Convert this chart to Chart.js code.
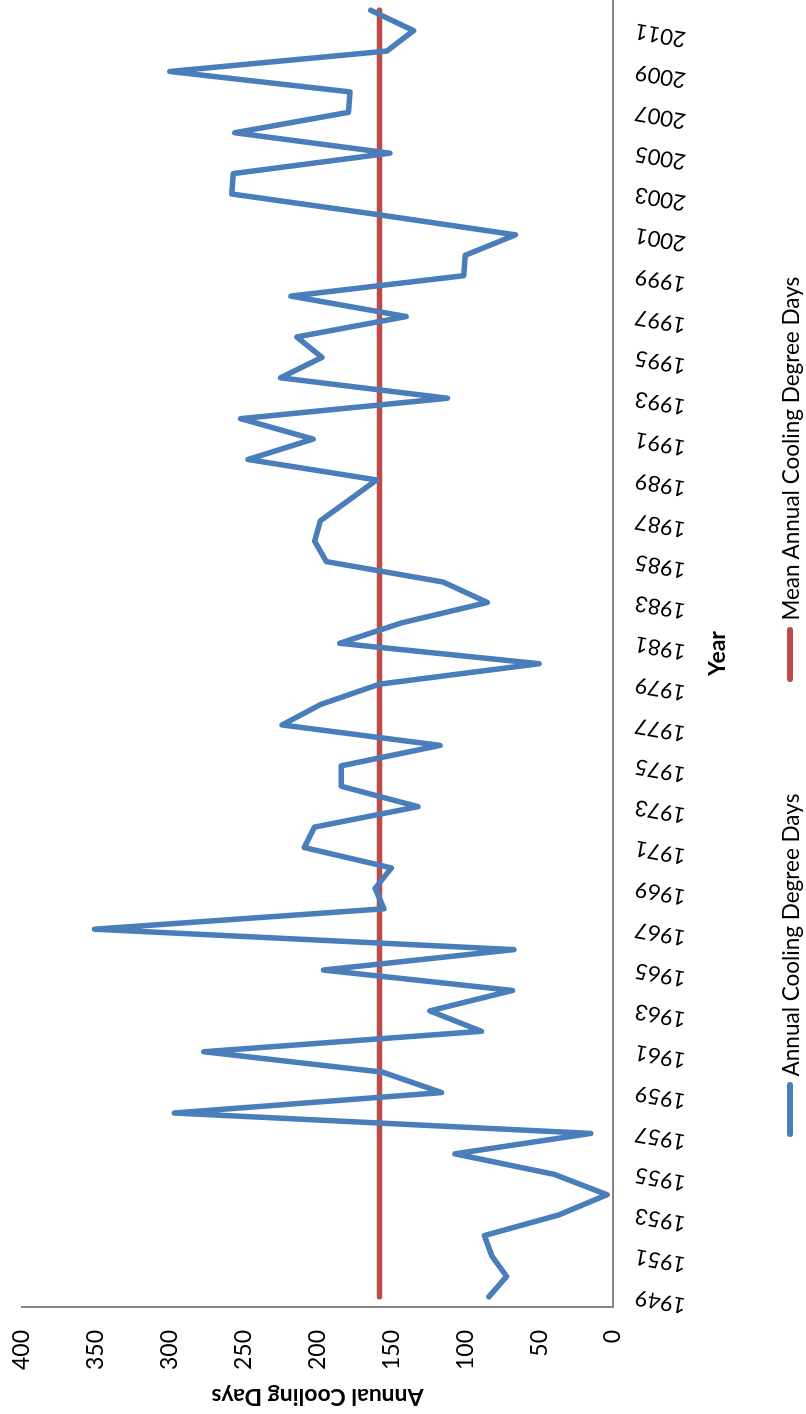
<!DOCTYPE html>
<html>
<head>
<meta charset="utf-8">
<title>Annual Cooling Degree Days</title>
<script src="https://cdn.jsdelivr.net/npm/chart.js@4"></script>
<style>
  html, body { margin: 0; padding: 0; background: #fff; }
  body { width: 806px; height: 1414px; overflow: hidden; position: relative; }
  /* The chart is laid out landscape and turned a quarter turn counter-clockwise */
  #frame {
    position: absolute; left: 0; top: 0;
    width: 1414px; height: 806px;
    transform-origin: 0 0;
    transform: translateY(1414px) rotate(-90deg);
    background: #fff;
  }
  #chart { position: absolute; left: 0; top: 0; }
  #legend {
    position: absolute; left: 0; top: 776px; width: 1414px; height: 28px;
    display: flex; justify-content: center; align-items: center;
    font-family: Lato, "Open Sans", sans-serif; font-size: 22.5px; color: #000;
    white-space: nowrap;
  }
  .item { display: flex; align-items: center; }
  .item + .item { margin-left: 112px; }
  .swatch { width: 55px; height: 6px; border-radius: 3px; margin-right: 6px; }
</style>
</head>
<body>
<div id="frame">
  <canvas id="chart" width="1414" height="806"></canvas>
  <div id="legend">
    <div class="item"><span class="swatch" style="background:#4A7EBB"></span><span>Annual Cooling Degree Days</span></div>
    <div class="item"><span class="swatch" style="background:#BE4B48"></span><span>Mean Annual Cooling Degree Days</span></div>
  </div>
</div>
<script>
// Years on the category axis
const years = [
  1949, 1950, 1951, 1952, 1953, 1954, 1955, 1956, 1957, 1958,
  1959, 1960, 1961, 1962, 1963, 1964, 1965, 1966, 1967, 1968,
  1969, 1970, 1971, 1972, 1973, 1974, 1975, 1976, 1977, 1978,
  1979, 1980, 1981, 1982, 1983, 1984, 1985, 1986, 1987, 1988,
  1989, 1990, 1991, 1992, 1993, 1994, 1995, 1996, 1997, 1998,
  1999, 2000, 2001, 2002, 2003, 2004, 2005, 2006, 2007, 2008,
  2009, 2010, 2011, 2012
];

// Annual cooling degree days per year
const coolingDays = [
   84,  72,  82,  87,  37,   4,  40, 107,  15, 297,
  116, 156, 277,  89, 124,  68, 196,  67, 351, 155,
  161, 150, 209, 202, 132, 184, 184, 117, 224, 198,
  158,  50, 185, 143,  85, 115, 194, 202, 198, 179,
  160, 247, 203, 252, 112, 225, 197, 214, 140, 218,
  101, 100,  66, 160, 258, 257, 151, 256, 179, 178,
  300, 153, 135, 164
];

// Long-term mean, one value per year
const meanCoolingDays = [
  158, 158, 158, 158, 158, 158, 158, 158, 158, 158,
  158, 158, 158, 158, 158, 158, 158, 158, 158, 158,
  158, 158, 158, 158, 158, 158, 158, 158, 158, 158,
  158, 158, 158, 158, 158, 158, 158, 158, 158, 158,
  158, 158, 158, 158, 158, 158, 158, 158, 158, 158,
  158, 158, 158, 158, 158, 158, 158, 158, 158, 158,
  158, 158, 158, 158
];

// Value axis range
const valueMin = 0;
const valueMax = 400;
const valueStep = 50;

const axisGrey = '#868686';
const font = 'Lato, "Open Sans", sans-serif';

new Chart(document.getElementById('chart'), {
  type: 'line',
  data: {
    labels: years.map(String),
    datasets: [
      {
        label: 'Annual Cooling Degree Days',
        data: coolingDays,
        borderColor: '#4A7EBB',
        borderWidth: 5.5,
        borderCapStyle: 'round',
        borderJoinStyle: 'round',
        pointRadius: 0,
        tension: 0,
        fill: false
      },
      {
        label: 'Mean Annual Cooling Degree Days',
        data: meanCoolingDays,
        borderColor: '#BE4B48',
        borderWidth: 5.5,
        borderCapStyle: 'round',
        borderJoinStyle: 'round',
        pointRadius: 0,
        tension: 0,
        fill: false
      }
    ]
  },
  options: {
    responsive: false,
    animation: false,
    devicePixelRatio: 1,
    layout: { padding: { top: 22, right: 0, bottom: 0, left: 0 } },
    plugins: {
      legend: { display: false },
      tooltip: { enabled: false }
    },
    scales: {
      x: {
        type: 'category',
        offset: true,
        grid: { display: false, drawTicks: false },
        border: { display: true, color: axisGrey, width: 2 },
        ticks: {
          autoSkip: false,
          minRotation: 80,
          maxRotation: 80,
          padding: 20,
          color: '#000',
          font: { family: font, size: 22 },
          callback: function (value, index) {
            return index % 2 === 0 ? this.getLabelForValue(value) : '';
          }
        },
        title: {
          display: true,
          text: 'Year',
          color: '#000',
          font: { family: font, size: 23, weight: 'bold' },
          padding: { top: 0, bottom: 75 }
        },
        afterFit: function (scale) {
          scale.height = 193;
          scale.paddingLeft = 0;
          scale.paddingRight = 0;
        }
      },
      y: {
        min: valueMin,
        max: valueMax,
        grid: { display: false, drawTicks: false },
        border: { display: true, color: axisGrey, width: 2 },
        ticks: {
          stepSize: valueStep,
          padding: 23,
          color: '#000',
          font: { family: font, size: 23 }
        },
        title: {
          display: true,
          text: 'Annual Cooling Days',
          color: '#000',
          font: { family: font, size: 23, weight: 'bold' },
          padding: { top: 4, bottom: 0 }
        },
        afterFit: function (scale) {
          scale.width = 107;
          scale.paddingTop = 0;
          scale.paddingBottom = 0;
        }
      }
    }
  }
});
</script>
</body>
</html>
